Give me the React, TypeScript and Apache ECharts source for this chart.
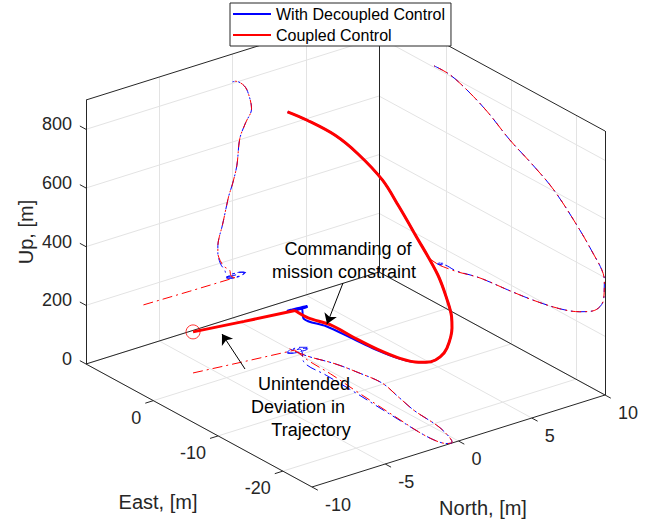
import React, { useEffect, useRef } from "react";
import * as echarts from "echarts";

// ---------- axis ranges and ticks ----------
const EAST_RANGE = [-24.5, 10.4];
const NORTH_RANGE = [-10, 10];
const UP_RANGE = [0, 900];

const eastTicks = [0, -10, -20];
const northTicks = [-10, -5, 0, 5, 10];
const upTicks = [0, 200, 400, 600, 800];

// ---------- Coupled Control trajectory (red) ----------
// first three samples: straight unintended deviation leg (start circle -> waypoint)
const coupledEast = [2.74, 1.9, 1.1, -1.5, -5.2, -9.5, -13.4, -17.5, -20.6, -22.5, -23.7, -24.3, -24.4, -24.0, -22.8, -20.6, -16.6, -13.2, -9.8, -6.5, -3.65, -0.6, 1.9];
const coupledNorth = [-6.08, -2.96, 0.16, -0.1, -0.2, -0.45, -0.65, -0.85, -1.0, -1.0, -0.9, -0.7, -0.4, -0.25, 0.0, 0.3, 0.5, 0.9, 1.3, 1.1, 0.8, 0.2, 0.0];
const coupledUp = [140, 137, 135, 145, 167, 178, 190, 210, 237, 262, 291, 325, 390, 421, 457, 516, 604, 652, 693, 745, 779, 804, 805];
const DEVIATION_END = 2;

// ---------- With Decoupled Control trajectory (blue) ----------
const decoupledEast = [1.1, 0.9, 0.6, 0.5, 0.7, 1.1, 1.4, 1.3, 0.9, 0.6, 0.6, 0.9, 1.2, 1.1, 0.6, -1.5, -5.2, -9.5, -13.4, -17.5, -20.6, -22.5, -23.7, -24.3, -24.4, -24.0, -22.8, -20.6, -16.6, -13.2, -9.8, -6.5, -3.65, -0.6, 1.9];
const decoupledNorth = [0.16, 0.7, 0.8, 0.3, -0.2, -0.4, 0.0, 0.6, 0.9, 0.5, -0.1, -0.4, -0.1, 0.4, 0.4, -0.4, -0.5, -0.6, -0.75, -0.9, -1.0, -1.0, -0.9, -0.7, -0.4, -0.25, 0.0, 0.3, 0.5, 0.9, 1.3, 1.1, 0.8, 0.2, 0.0];
const decoupledUp = [135, 137, 144, 150, 149, 142, 136, 135, 141, 148, 149, 144, 138, 137, 143, 147, 167, 178, 190, 210, 237, 262, 291, 325, 390, 421, 457, 516, 604, 652, 693, 745, 779, 804, 805];

// ---------- view (orthographic projection of the 3D box) ----------
const W = 657;
const H = 523;
const CORNER_EMAX = [86, 364]; // (east max, north min, up 0)
const CORNER_ORIGIN = [312, 487]; // (east min, north min, up 0)
const CORNER_NMAX = [605, 395]; // (east min, north max, up 0)
const UP_PX = 264;

const FONT = "'Liberation Sans', Arial, Helvetica, sans-serif";
const AXIS_COLOR = "#262626";
const GRID_COLOR = "#e3e3e3";

function proj(e: number, n: number, u: number): number[] {
  const fe = (e - EAST_RANGE[0]) / (EAST_RANGE[1] - EAST_RANGE[0]);
  const fn = (n - NORTH_RANGE[0]) / (NORTH_RANGE[1] - NORTH_RANGE[0]);
  const fu = (u - UP_RANGE[0]) / (UP_RANGE[1] - UP_RANGE[0]);
  return [
    CORNER_ORIGIN[0] + fe * (CORNER_EMAX[0] - CORNER_ORIGIN[0]) + fn * (CORNER_NMAX[0] - CORNER_ORIGIN[0]),
    CORNER_ORIGIN[1] + fe * (CORNER_EMAX[1] - CORNER_ORIGIN[1]) + fn * (CORNER_NMAX[1] - CORNER_ORIGIN[1]) - fu * UP_PX,
  ];
}

function track(E: number[], N: number[], U: number[], mode: string) {
  const eMax = EAST_RANGE[1];
  const nMax = NORTH_RANGE[1];
  return E.map((e, i) => {
    if (mode === "floor") return proj(e, N[i], UP_RANGE[0]);
    if (mode === "eastWall") return proj(eMax, N[i], U[i]);
    if (mode === "northWall") return proj(e, nMax, U[i]);
    return proj(e, N[i], U[i]);
  });
}

function buildOption() {
  const [eMin, eMax] = EAST_RANGE;
  const [nMin, nMax] = NORTH_RANGE;
  const [uMin, uMax] = UP_RANGE;
  const seg = (p: number[], q: number[]) => ({ coords: [p, q] });

  const gridSegs: any[] = [];
  eastTicks.forEach((e) => {
    gridSegs.push(seg(proj(e, nMin, uMin), proj(e, nMax, uMin)));
    gridSegs.push(seg(proj(e, nMax, uMin), proj(e, nMax, uMax)));
  });
  northTicks.forEach((n) => {
    gridSegs.push(seg(proj(eMax, n, uMin), proj(eMin, n, uMin)));
    gridSegs.push(seg(proj(eMax, n, uMin), proj(eMax, n, uMax)));
  });
  upTicks.forEach((u) => {
    gridSegs.push(seg(proj(eMax, nMin, u), proj(eMax, nMax, u)));
    gridSegs.push(seg(proj(eMax, nMax, u), proj(eMin, nMax, u)));
  });

  const boxSegs = [
    seg(proj(eMax, nMin, uMin), proj(eMax, nMin, uMax)),
    seg(proj(eMax, nMax, uMin), proj(eMax, nMax, uMax)),
    seg(proj(eMin, nMax, uMin), proj(eMin, nMax, uMax)),
    seg(proj(eMax, nMin, uMax), proj(eMax, nMax, uMax)),
    seg(proj(eMax, nMax, uMax), proj(eMin, nMax, uMax)),
    seg(proj(eMax, nMin, uMin), proj(eMax, nMax, uMin)),
    seg(proj(eMax, nMax, uMin), proj(eMin, nMax, uMin)),
    seg(proj(eMax, nMin, uMin), proj(eMin, nMin, uMin)),
    seg(proj(eMin, nMin, uMin), proj(eMin, nMax, uMin)),
  ];

  const tickSegs: any[] = [];
  upTicks.forEach((u) => tickSegs.push(seg(proj(eMax, nMin, u), proj(eMax + 0.95, nMin, u))));
  eastTicks.forEach((e) => tickSegs.push(seg(proj(e, nMin, uMin), proj(e, nMin - 0.55, uMin))));
  northTicks.forEach((n) => tickSegs.push(seg(proj(eMin, n, uMin), proj(eMin - 0.9, n, uMin))));

  const dashDot = [10, 4, 2, 4];
  const lineSeries = (name: string, data: number[][], color: string, width: number, z: number, smooth: number, dash?: any, offset = 0) => ({
    name,
    type: "line",
    data,
    showSymbol: false,
    symbol: "none",
    smooth,
    silent: true,
    z,
    lineStyle: dash ? { color, width, type: dash, dashOffset: offset } : { color, width },
    itemStyle: { color },
  });

  const modes = ["floor", "eastWall", "northWall"];
  const series: any[] = [
    {
      type: "lines",
      coordinateSystem: "cartesian2d",
      data: gridSegs,
      silent: true,
      z: 1,
      lineStyle: { color: GRID_COLOR, width: 1, opacity: 1 },
    },
    {
      type: "lines",
      coordinateSystem: "cartesian2d",
      data: boxSegs.concat(tickSegs),
      silent: true,
      z: 2,
      lineStyle: { color: AXIS_COLOR, width: 1, opacity: 1 },
    },
  ];
  modes.forEach((m) => {
    series.push(lineSeries("proj-blue-" + m, track(decoupledEast, decoupledNorth, decoupledUp, m), "#0000ff", 1, 3, 0.35, dashDot, 12));
  });
  modes.forEach((m) => {
    const pts = track(coupledEast, coupledNorth, coupledUp, m);
    series.push(lineSeries("proj-red-dev-" + m, pts.slice(0, DEVIATION_END + 1), "#ff0000", 1, 3, 0, dashDot, 0));
    series.push(lineSeries("proj-red-" + m, pts.slice(DEVIATION_END), "#ff0000", 1, 3, 0.35, dashDot, 0));
  });
  series.push(lineSeries("With Decoupled Control", track(decoupledEast, decoupledNorth, decoupledUp, "3d"), "#0000ff", 2, 4, 0.35));
  const red3d = track(coupledEast, coupledNorth, coupledUp, "3d");
  series.push(lineSeries("Coupled Control", red3d.slice(0, DEVIATION_END + 1), "#ff0000", 3, 5, 0));
  series.push(lineSeries("Coupled Control", red3d.slice(DEVIATION_END), "#ff0000", 3, 5, 0.35));
  series.push({
    name: "start",
    type: "scatter",
    data: [proj(coupledEast[0], coupledNorth[0], coupledUp[0])],
    symbol: "circle",
    symbolSize: 14,
    silent: true,
    z: 6,
    itemStyle: { color: "rgba(0,0,0,0)", borderColor: "#ff0000", borderWidth: 1 },
  });
  series.push({
    type: "lines",
    coordinateSystem: "cartesian2d",
    data: [
      { coords: [[343, 283], [327, 324]] },
      { coords: [[245, 369], [222, 334]] },
    ],
    symbol: ["none", "arrow"],
    symbolSize: 10,
    silent: true,
    z: 7,
    lineStyle: { color: "#000", width: 1, opacity: 1 },
  });

  const texts: any[] = [];
  const txt = (x: number, y: number, text: string, size: number, align: string, color = AXIS_COLOR, rotation = 0) => ({
    type: "text",
    x,
    y,
    rotation,
    silent: true,
    z: 100,
    style: { text, fill: color, fontSize: size, fontFamily: FONT, align, verticalAlign: "middle" },
  });
  upTicks.forEach((u) => {
    const p = proj(eMax, nMin, u);
    texts.push(txt(p[0] - 14, p[1] - 5, String(u), 18, "right"));
  });
  eastTicks.forEach((e) => {
    const p = proj(e, nMin, uMin);
    texts.push(txt(p[0] - 12, p[1] + 17, String(e), 18, "right"));
  });
  northTicks.forEach((n) => {
    const p = proj(eMin, n, uMin);
    texts.push(txt(p[0] + 13, p[1] + 18, String(n), 18, "left"));
  });
  texts.push(txt(26, 232, "Up, [m]", 20, "center", AXIS_COLOR, Math.PI / 2));
  texts.push(txt(158, 502, "East, [m]", 20, "center"));
  texts.push(txt(483, 508, "North, [m]", 20, "center"));
  texts.push(txt(348, 249, "Commanding of", 18, "center", "#000"));
  texts.push(txt(344, 272, "mission constraint", 18, "center", "#000"));
  texts.push(txt(304, 384, "Unintended", 18, "center", "#000"));
  texts.push(txt(298, 407, "Deviation in", 18, "center", "#000"));
  texts.push(txt(311, 430, "Trajectory", 18, "center", "#000"));

  return {
    animation: false,
    backgroundColor: "#ffffff",
    grid: { left: 0, right: 0, top: 0, bottom: 0 },
    xAxis: { type: "value", min: 0, max: W, show: false },
    yAxis: { type: "value", min: 0, max: H, inverse: true, show: false },
    legend: {
      data: ["With Decoupled Control", "Coupled Control"],
      orient: "vertical",
      left: 230,
      top: 3,
      padding: [2, 6, 2, 3],
      itemGap: 3,
      itemWidth: 38,
      itemHeight: 2,
      icon: "rect",
      backgroundColor: "#ffffff",
      borderColor: AXIS_COLOR,
      borderWidth: 1,
      borderRadius: 0,
      selectedMode: false,
      textStyle: { fontSize: 16, fontFamily: FONT, color: "#000", lineHeight: 18 },
      z: 50,
    },
    series,
    graphic: texts,
  };
}

export default function App() {
  const ref = useRef<HTMLDivElement>(null);
  useEffect(() => {
    document.body.style.margin = "0";
    const chart = echarts.init(ref.current as HTMLDivElement, null, { renderer: "svg" });
    chart.setOption(buildOption() as any);
    return () => chart.dispose();
  }, []);
  return <div ref={ref} style={{ width: W, height: H, background: "#fff" }} />;
}
